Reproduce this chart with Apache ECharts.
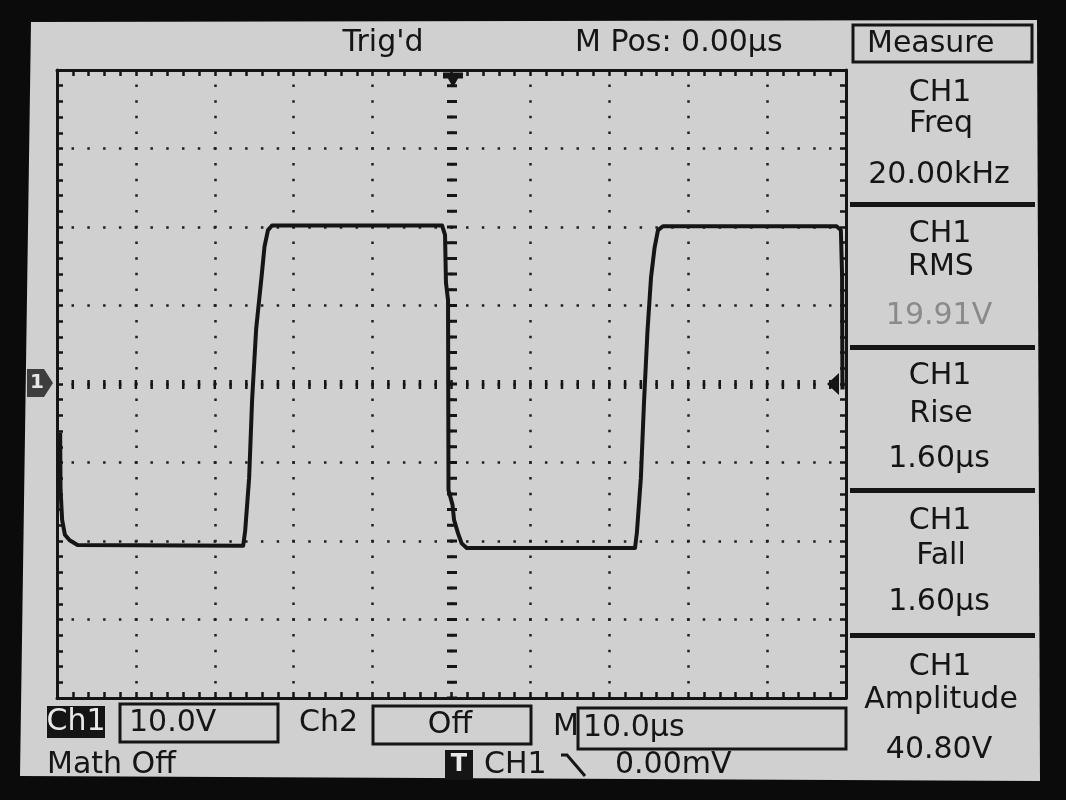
<!DOCTYPE html>
<html><head><meta charset="utf-8">
<script src="https://cdn.jsdelivr.net/npm/echarts@6/dist/echarts.min.js"></script>
<style>html,body{margin:0;padding:0;background:#0b0b0b}#c{width:1066px;height:800px}</style>
</head><body><div id="c"></div>
<script>
// ---- data ----
const timeRangeUs = [-50, 50];      // 10 divisions, 10.0 µs/div
const voltRangeV = [-40, 40];       // 8 divisions, 10.0 V/div
const timePerDiv = 10;
const voltPerDiv = 10;
const timeUs = [
  -49.6, -49.55, -49.35, -49.0, -48.4, -47.4,
  -26.4, -26.15, -25.65, -25.27, -24.76, -24.08, -23.7, -23.26, -22.75,
  -1.2, -0.82, -0.7, -0.44, -0.38, 0.13, 0.32, 0.82, 1.29, 1.93,
  23.26, 23.5, 24.0, 24.4, 24.84, 25.29, 25.73, 26.17, 26.8,
  48.8, 49.35, 49.5, 49.55
];
const voltsV = [
  -6.2, -13.5, -17.3, -19.2, -19.9, -20.5,
  -20.6, -18.7, -12.0, -2.0, 7.0, 13.6, 17.5, 19.6, 20.2,
  20.2, 19.0, 12.9, 10.7, -13.5, -15.4, -17.3, -19.0, -20.3, -20.9,
  -20.9, -18.9, -12.0, -2.3, 6.75, 13.6, 17.3, 19.6, 20.1,
  20.1, 19.6, 14.0, -0.7
];
const triggerTimeUs = 0;
const triggerLevelV = 0;
const channelOffsetV = 0;
const headerTexts = ["Trig'd", "M Pos: 0.00µs"];
const measureTitle = "Measure";
const measureSource = "CH1";
const measureNames = ["Freq", "RMS", "Rise", "Fall", "Amplitude"];
const measureValues = ["20.00kHz", "19.91V", "1.60µs", "1.60µs", "40.80V"];
const statusTexts = {ch1: "Ch1", ch1Scale: "10.0V", ch2: "Ch2", ch2Scale: "Off", m: "M", time: "10.0µs",
  math: "Math Off", trigT: "T", trigSrc: "CH1", trigLevel: "0.00mV"};

// ---- drawing ----
const FONT = "'DejaVu Sans', 'Liberation Sans', sans-serif";
const INK = '#151515';
const chart = echarts.init(document.getElementById('c'), null, {renderer: 'canvas'});

function T(x, y, text, o) {
  o = o || {};
  return {type: 'text', x: x, y: y, z: 5, silent: true,
    style: {text: text, fill: o.fill || INK, fontSize: o.size || 30, fontFamily: FONT,
      fontWeight: o.weight || 'normal', align: o.align || 'center', verticalAlign: 'middle'}};
}
function R(x, y, w, h, o) {
  o = o || {};
  return {type: 'rect', z: 4, silent: true, shape: {x: x, y: y, width: w, height: h},
    style: o.fill ? {fill: o.fill} : {fill: 'none', stroke: INK, lineWidth: o.lw || 3}};
}

const graphics = [];
graphics.push({type: 'polygon', z: -10, silent: true,
  shape: {points: [[31, 22], [1037, 20], [1040, 781], [20, 776]]}, style: {fill: '#d0d0d0'}});
// header
graphics.push(T(383, 43, headerTexts[0]));
graphics.push(T(575, 43, headerTexts[1], {align: 'left'}));
// measure panel
graphics.push(R(853, 25, 179, 37, {lw: 3}));
graphics.push(T(867, 44, measureTitle, {align: 'left'}));
const sepY = [202, 345, 488, 633];
sepY.forEach(y => graphics.push(R(850, y, 185, 5, {fill: INK})));
const rowCh = [93, 234, 376, 521, 667];
const rowName = [124, 267, 414, 556, 700];
const rowVal = [175, 316, 459, 602, 750];
measureNames.forEach((n, i) => {
  graphics.push(T(940, rowCh[i], measureSource));
  graphics.push(T(941, rowName[i], n));
  graphics.push(T(939, rowVal[i], measureValues[i], i === 1 ? {fill: '#8a8a8a'} : {}));
});
// status bar
graphics.push(R(47, 706, 58, 32, {fill: INK}));
graphics.push(T(76, 722, statusTexts.ch1, {fill: '#e8e8e8'}));
graphics.push(R(120, 704, 158, 38, {lw: 3}));
graphics.push(T(129, 723, statusTexts.ch1Scale, {align: 'left'}));
graphics.push(T(299, 723, statusTexts.ch2, {align: 'left'}));
graphics.push(R(373, 706, 158, 38, {lw: 3}));
graphics.push(T(450, 725, statusTexts.ch2Scale));
graphics.push(T(553, 727, statusTexts.m, {align: 'left'}));
graphics.push(R(578, 708, 268, 41, {lw: 3}));
graphics.push(T(583, 728, statusTexts.time, {align: 'left'}));
graphics.push(T(47, 765, statusTexts.math, {align: 'left'}));
graphics.push(R(445, 750, 28, 30, {fill: INK}));
graphics.push(T(459, 765, statusTexts.trigT, {fill: '#e8e8e8', size: 24, weight: 'bold'}));
graphics.push(T(484, 765, statusTexts.trigSrc, {align: 'left'}));
graphics.push({type: 'polyline', z: 5, silent: true, shape: {points: [[561, 755], [567, 755], [585, 776]]},
  style: {stroke: INK, lineWidth: 3, fill: 'none'}});
graphics.push(T(615, 765, statusTexts.trigLevel, {align: 'left'}));

const tickStyle = {color: INK, width: 2.5};
function axisCommon(range, per, pos, split, dash) {
  return {
    type: 'value', min: range[0], max: range[1], interval: per, position: pos,
    axisLine: {show: true, onZero: false, lineStyle: {color: INK, width: 3}},
    axisTick: {show: true, inside: true, length: 6, lineStyle: tickStyle},
    minorTick: {show: true, splitNumber: 5, length: 6, lineStyle: tickStyle},
    axisLabel: {show: false},
    splitLine: {show: split, lineStyle: {color: '#1e1e1e', width: 2.5, type: dash, dashOffset: 1.25}},
    minorSplitLine: {show: false}
  };
}

const option = {
  backgroundColor: '#0b0b0b',
  animation: false,
  grid: {left: 57, top: 70, width: 789, height: 628, show: false},
  xAxis: [
    axisCommon(timeRangeUs, timePerDiv, 'bottom', true, [2.5, 13.2]),
    axisCommon(timeRangeUs, timePerDiv, 'top', false, 'solid')
  ],
  yAxis: [
    axisCommon(voltRangeV, voltPerDiv, 'left', true, [2.5, 13.28]),
    axisCommon(voltRangeV, voltPerDiv, 'right', false, 'solid')
  ],
  graphic: graphics,
  series: [{
    type: 'line', xAxisIndex: 0, yAxisIndex: 0, clip: false,
    data: timeUs.map((t, i) => [t, voltsV[i]]),
    showSymbol: false, symbol: 'none',
    lineStyle: {color: INK, width: 4, join: 'round'},
    markLine: {
      silent: true, symbol: 'none', animation: false, label: {show: false},
      data: [
        {xAxis: triggerTimeUs, lineStyle: {color: INK, width: 10, type: [3, 12.7], dashOffset: 1.5}},
        {yAxis: channelOffsetV, lineStyle: {color: INK, width: 9, type: [2.5, 13.28], dashOffset: 1.25}}
      ]
    },
    markPoint: {
      silent: true, animation: false,
      data: [
        {coord: [triggerTimeUs, voltRangeV[1]], symbol: 'path://M0,0 L20,0 L20,6 L15,6 L10,15 L5,6 L0,6 Z',
          symbolSize: [20, 15], symbolOffset: [1.5, 10], itemStyle: {color: INK}, label: {show: false}},
        {coord: [timeRangeUs[1], triggerLevelV], symbol: 'path://M0,11 L12,0 L12,22 Z',
          symbolSize: [12, 22], symbolOffset: [-13, 0], itemStyle: {color: INK}, label: {show: false}},
        {coord: [timeRangeUs[0], channelOffsetV], symbol: 'path://M0,0 L17,0 L26,14 L17,28 L0,28 Z',
          symbolSize: [26, 28], symbolOffset: [-17, -1], itemStyle: {color: '#3d3d3d'},
          label: {show: true, position: 'inside', formatter: '1', color: '#e6e6e6', fontSize: 20,
            fontWeight: 'bold', fontFamily: FONT, offset: [-3, 0]}}
      ]
    }
  }]
};
chart.setOption(option);
</script>
</body></html>
